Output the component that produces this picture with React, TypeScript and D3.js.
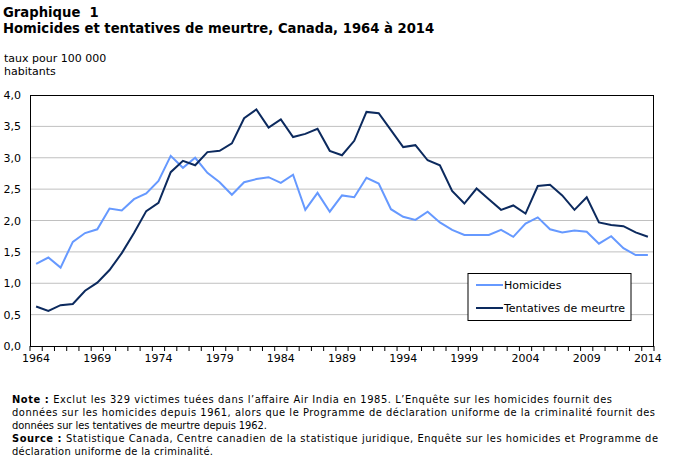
// App.tsx
import * as d3 from "d3";
import React from "react";

const years: number[] = d3.range(1964, 2015);
const homicides = [
  1.31, 1.41, 1.25, 1.66, 1.8, 1.86, 2.19, 2.16, 2.34, 2.43, 2.63, 3.03, 2.84,
  3.0, 2.76, 2.61, 2.41, 2.61, 2.66, 2.69, 2.6, 2.73, 2.17, 2.44, 2.14, 2.4,
  2.37, 2.68, 2.59, 2.18, 2.06, 2.01, 2.14, 1.97, 1.85, 1.77, 1.77, 1.77, 1.85,
  1.74, 1.95, 2.05, 1.86, 1.81, 1.84, 1.82, 1.63, 1.75, 1.56, 1.45, 1.45,
];
const tentatives = [
  0.63, 0.56, 0.65, 0.67, 0.88, 1.01, 1.21, 1.48, 1.8, 2.15, 2.28, 2.77, 2.95,
  2.88, 3.09, 3.11, 3.23, 3.63, 3.77, 3.48, 3.61, 3.33, 3.38, 3.46, 3.11, 3.04,
  3.27, 3.73, 3.71, 3.44, 3.17, 3.2, 2.96, 2.88, 2.47, 2.27, 2.51, 2.34, 2.17,
  2.24, 2.11, 2.55, 2.57, 2.4, 2.17, 2.37, 1.97, 1.93, 1.91, 1.81, 1.74,
];
const yTicks = [0, 0.5, 1, 1.5, 2, 2.5, 3, 3.5, 4];
const xLabels = [1964, 1969, 1974, 1979, 1984, 1989, 1994, 1999, 2004, 2009, 2014];

const series = [
  { name: "Homicides", values: homicides, color: "#6699ff" },
  { name: "Tentatives de meurtre", values: tentatives, color: "#0c2a5e" },
];

const W = 673, H = 459;
const left = 30, right = 654, top = 95, bottom = 346;
const font = "'DejaVu Sans', Verdana, sans-serif";
const noteFont = "'DejaVu Sans Condensed', 'DejaVu Sans', sans-serif";

export default function App() {
  const x = d3.scaleBand<number>().domain(years).range([left, right]);
  const cx = (yr: number) => (x(yr) as number) + x.bandwidth() / 2;
  const y = d3.scaleLinear().domain([0, 4]).range([bottom, top]);
  const fmt = (v: number) => d3.format(".1f")(v).replace(".", ",");

  const line = (vals: number[]) =>
    d3
      .line<number>()
      .x((d, i) => cx(years[i]))
      .y((d) => y(d))(vals) as string;

  return (
    <svg
      width={W}
      height={H}
      style={{ position: "absolute", left: 0, top: 0, background: "#fff" }}
      fontFamily={font}
    >
      <text x={3} y={17} fontSize={13.2} fontWeight="bold" style={{ whiteSpace: "pre" }}>
        {"Graphique  1"}
      </text>
      <text x={3} y={33} fontSize={13.2} fontWeight="bold">
        Homicides et tentatives de meurtre, Canada, 1964 à 2014
      </text>
      <text x={4} y={62} fontSize={11}>taux pour 100 000</text>
      <text x={4} y={75} fontSize={11}>habitants</text>

      {/* grid */}
      {yTicks.map((t) => (
        <g key={t}>
          {t > 0 && t < 4 && (
            <line x1={left} x2={right} y1={y(t)} y2={y(t)} stroke="#c0c0c0" strokeWidth={1} />
          )}
          <text x={21} y={y(t) + 4} fontSize={11} textAnchor="end">
            {fmt(t)}
          </text>
        </g>
      ))}

      {/* x ticks */}
      {years.map((yr) => (
        <line
          key={yr}
          x1={x(yr) as number}
          x2={x(yr) as number}
          y1={bottom}
          y2={bottom + 5}
          stroke="#000"
        />
      ))}
      <line x1={right} x2={right} y1={bottom} y2={bottom + 5} stroke="#000" />
      {xLabels.map((yr) => (
        <text key={yr} x={cx(yr)} y={362} fontSize={11} textAnchor="middle">
          {yr}
        </text>
      ))}

      <rect
        x={left + 0.5}
        y={top + 0.5}
        width={right - left - 1}
        height={bottom - top}
        fill="none"
        stroke="#000"
      />

      {series.map((s) => (
        <path key={s.name} d={line(s.values)} fill="none" stroke={s.color} strokeWidth={2} />
      ))}

      {/* legend */}
      <rect x={468} y={273.5} width={163} height={47} fill="#fff" stroke="#000" />
      {series.map((s, i) => (
        <g key={s.name}>
          <line x1={476} x2={503} y1={285 + i * 23} y2={285 + i * 23} stroke={s.color} strokeWidth={2} />
          <text x={504} y={289 + i * 23} fontSize={11}>
            {s.name}
          </text>
        </g>
      ))}

      {/* notes */}
      <g fontFamily={noteFont} fontSize={11}>
        <text x={12} y={403} textLength={600} lengthAdjust="spacing">
          <tspan fontWeight="bold">Note : </tspan>
          Exclut les 329 victimes tuées dans l’affaire Air India en 1985. L’Enquête sur les homicides fournit des
        </text>
        <text x={12} y={416} textLength={643} lengthAdjust="spacing">
          données sur les homicides depuis 1961, alors que le Programme de déclaration uniforme de la criminalité fournit des
        </text>
        <text x={12} y={429} textLength={255} lengthAdjust="spacing">
          données sur les tentatives de meurtre depuis 1962.
        </text>
        <text x={12} y={442} textLength={646} lengthAdjust="spacing">
          <tspan fontWeight="bold">Source : </tspan>
          Statistique Canada, Centre canadien de la statistique juridique, Enquête sur les homicides et Programme de
        </text>
        <text x={12} y={455} textLength={201} lengthAdjust="spacing">
          déclaration uniforme de la criminalité.
        </text>
      </g>
    </svg>
  );
}
